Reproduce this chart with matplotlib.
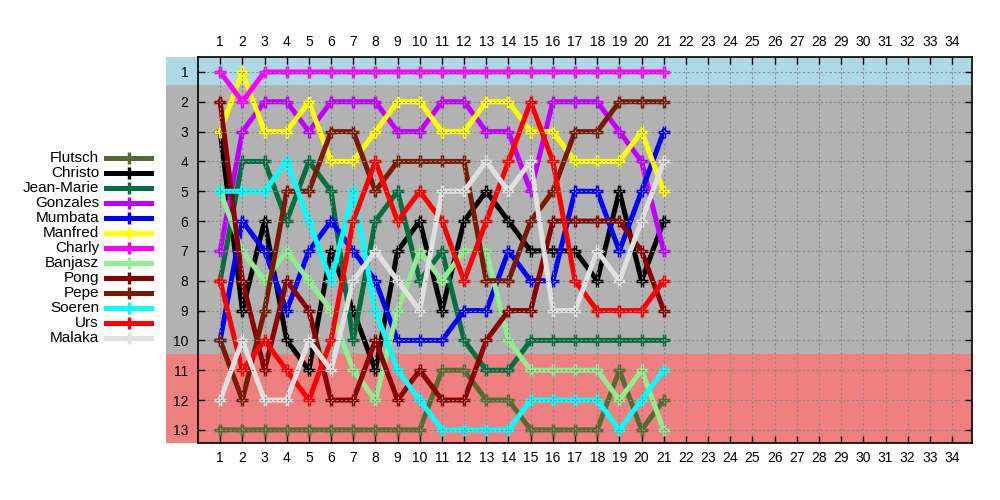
import matplotlib
matplotlib.use("Agg")
import matplotlib.pyplot as plt
from matplotlib.lines import Line2D
from matplotlib.patches import Rectangle

plt.rcParams['font.family'] = ['Liberation Sans', 'DejaVu Sans']

# ranking per round (1..21)
rounds = list(range(1, 22))
names = ["Flutsch", "Christo", "Jean-Marie", "Gonzales", "Mumbata", "Manfred", "Charly",
         "Banjasz", "Pong", "Pepe", "Soeren", "Urs", "Malaka"]
colors = ["#556b2f", "#000000", "#007040", "#c000ff", "#0000ff", "#ffff00", "#ff00ff",
          "#90ee90", "#8b0000", "#7a1a00", "#00ffff", "#ff0000", "#e0e0e0"]

flutsch   = [13, 13, 13, 13, 13, 13, 13, 13, 13, 13, 11, 11, 12, 12, 13, 13, 13, 13, 11, 13, 12]
christo   = [3, 9, 6, 10, 11, 7, 9, 11, 7, 6, 9, 6, 5, 6, 7, 7, 7, 8, 5, 8, 6]
jeanmarie = [8, 4, 4, 6, 4, 5, 10, 6, 5, 8, 7, 10, 11, 11, 10, 10, 10, 10, 10, 10, 10]
gonzales  = [7, 3, 2, 2, 3, 2, 2, 2, 3, 3, 2, 2, 3, 3, 5, 2, 2, 2, 3, 4, 7]
mumbata   = [10, 6, 7, 9, 7, 6, 7, 8, 10, 10, 10, 9, 9, 7, 8, 8, 5, 5, 7, 5, 3]
manfred   = [3, 1, 3, 3, 2, 4, 4, 3, 2, 2, 3, 3, 2, 2, 3, 3, 4, 4, 4, 3, 5]
charly    = [1, 2, 1, 1, 1, 1, 1, 1, 1, 1, 1, 1, 1, 1, 1, 1, 1, 1, 1, 1, 1]
banjasz   = [5, 7, 8, 7, 8, 9, 11, 12, 9, 7, 8, 7, 7, 10, 11, 11, 11, 11, 12, 11, 13]
pong      = [2, 8, 11, 8, 9, 12, 12, 10, 12, 11, 12, 12, 10, 9, 9, 6, 6, 6, 6, 7, 9]
pepe      = [10, 12, 9, 5, 5, 3, 3, 5, 4, 4, 4, 4, 8, 8, 6, 5, 3, 3, 2, 2, 2]
soeren    = [5, 5, 5, 4, 6, 8, 5, 9, 11, 12, 13, 13, 13, 13, 12, 12, 12, 12, 13, 12, 11]
urs       = [8, 11, 10, 11, 12, 10, 6, 4, 6, 5, 6, 8, 6, 4, 2, 4, 8, 9, 9, 9, 8]
malaka    = [12, 10, 12, 12, 10, 11, 8, 7, 8, 9, 5, 5, 4, 5, 4, 9, 9, 7, 8, 6, 4]

series = [flutsch, christo, jeanmarie, gonzales, mumbata, manfred, charly,
          banjasz, pong, pepe, soeren, urs, malaka]

xticks = list(range(1, 35))
yticks = list(range(1, 14))

fig = plt.figure(figsize=(10, 5), dpi=100)
ax = fig.add_axes([0.198, 0.114, 0.774, 0.772])
ax.set_xlim(0, 34.9)
ax.set_ylim(13.44, 0.5)

# background bands (extend left under the tick labels)
x0 = -1.44
ax.add_patch(Rectangle((x0, 0.5), 34.9 - x0, 0.95, facecolor="#add8e6", edgecolor="none",
                       clip_on=False, zorder=0))
ax.add_patch(Rectangle((x0, 1.45), 34.9 - x0, 9.0, facecolor="#b2b2b2", edgecolor="none",
                       clip_on=False, zorder=0))
ax.add_patch(Rectangle((x0, 10.45), 34.9 - x0, 2.99, facecolor="#f08080", edgecolor="none",
                       clip_on=False, zorder=0))

for vals, c in zip(series, colors):
    ax.plot(rounds, vals, color=c, lw=3.6, marker='+', ms=9, mew=2.5, zorder=2)

ax.set_xticks(xticks)
ax.set_yticks(yticks)
ax.grid(True, color="#8a8a8a", linestyle=(0, (2, 2)), lw=0.8, zorder=5)
ax.set_axisbelow(False)
ax.tick_params(axis='x', direction='in', top=True, bottom=True, labeltop=True,
               labelsize=10, length=5, width=1)
ax.tick_params(axis='x', which='major', pad=6)
ax.tick_params(axis='y', direction='in', left=True, right=True, labelsize=10,
               length=5, width=1, pad=7)
for lab in ax.get_xticklabels():
    lab.set_zorder(6)
for s in ax.spines.values():
    s.set_linewidth(1.2)
    s.set_zorder(6)

# legend on the left, text right aligned, sample after it
for i, (n, c) in enumerate(zip(names, colors)):
    ypx = 158 + 15 * i
    yf = 1 - ypx / 500
    fig.text(0.099, yf, n, ha='right', va='center', fontsize=11)
    fig.add_artist(Line2D([0.106, 0.151], [yf, yf], color=c, lw=3.6,
                          transform=fig.transFigure))
    fig.add_artist(Line2D([0.1285], [yf], color=c, marker='+', ms=9, mew=2.5,
                          transform=fig.transFigure))

fig.savefig("out.png", dpi=100)
